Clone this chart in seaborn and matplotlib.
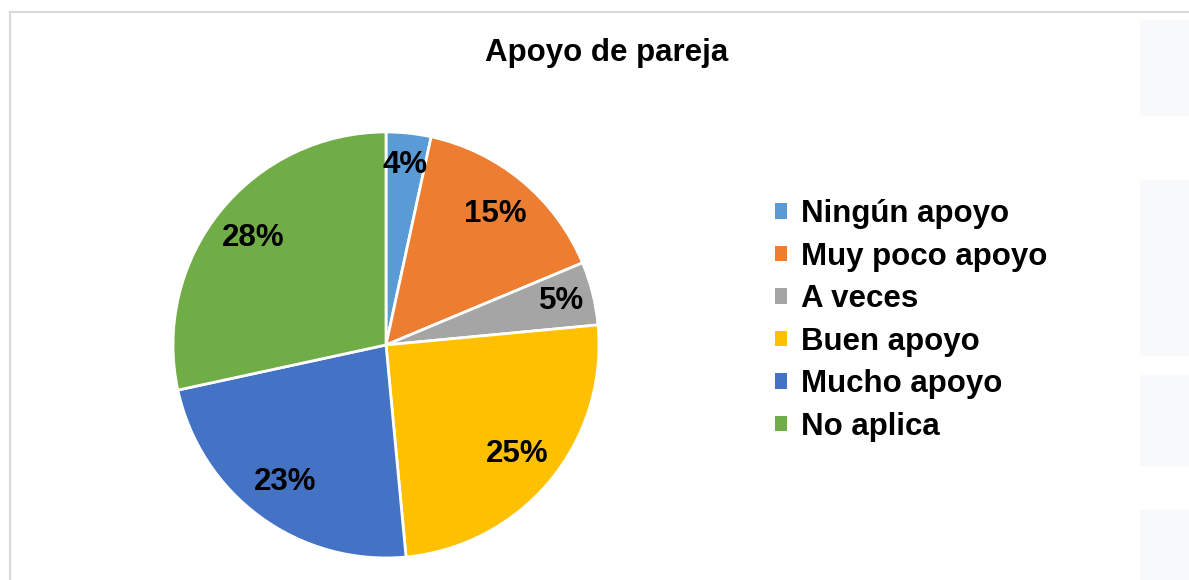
import matplotlib
matplotlib.use("Agg")
import matplotlib.pyplot as plt
from matplotlib.patches import Rectangle
from matplotlib.lines import Line2D
import numpy as np
import seaborn as sns

# datos
categorias = ["Ningún apoyo", "Muy poco apoyo", "A veces", "Buen apoyo", "Mucho apoyo", "No aplica"]
porcentajes = [3.4, 15.3, 4.8, 25.0, 23.1, 28.4]
etiquetas = ["4%", "15%", "5%", "25%", "23%", "28%"]
colores = ["#5B9BD5", "#ED7D31", "#A5A5A5", "#FFC000", "#4472C4", "#70AD47"]
titulo = "Apoyo de pareja"

sns.set_theme(style="white")
plt.rcParams["font.family"] = ["Liberation Sans", "DejaVu Sans"]
plt.rcParams["text.color"] = "black"
paleta = sns.color_palette(colores)

fig = plt.figure(figsize=(11.89, 5.8), dpi=100)
fig.patch.set_facecolor("white")

# fondo tenue a la derecha
for y0, h in [(20, 95), (180, 175), (375, 90), (510, 70)]:
    fig.patches.append(Rectangle((1140 / 1189, 1 - (y0 + h) / 580), 49 / 1189, h / 580,
                                 transform=fig.transFigure, color="#f8f9fb", zorder=0))

# borde del area del grafico
fig.add_artist(Line2D([10 / 1189, 1], [1 - 12 / 580] * 2, color="#d9d9d9", lw=1.5,
                      transform=fig.transFigure))
fig.add_artist(Line2D([10 / 1189] * 2, [0, 1 - 12 / 580], color="#d9d9d9", lw=1.5,
                      transform=fig.transFigure))

ax = fig.add_axes([0.1455, 0.038, 0.3583, 0.7345])
wedges, _ = ax.pie(porcentajes, colors=paleta, startangle=90, counterclock=False,
                   radius=1, wedgeprops=dict(edgecolor="white", linewidth=2))
ax.set_xlim(-1, 1)
ax.set_ylim(-1, 1)
ax.set_aspect("equal")
ax.axis("off")

# etiquetas de porcentaje dentro de cada sector
acum = np.cumsum([0] + porcentajes)
for i, txt in enumerate(etiquetas):
    medio = (acum[i] + acum[i + 1]) / 2
    ang = np.deg2rad(90 - medio * 3.6)
    d = 0.85 if porcentajes[i] < 6 else 0.80
    ax.text(d * np.cos(ang), d * np.sin(ang), txt, ha="center", va="center",
            fontsize=22.5, fontweight="bold", color="black")

fig.text(607 / 1189, 1 - 53 / 580, titulo, ha="center", va="center",
         fontsize=22.5, fontweight="bold", color="black")

handles = [Rectangle((0, 0), 1, 1, facecolor=c, edgecolor="none") for c in paleta]
leg = fig.legend(handles, categorias, loc="upper left",
                 bbox_to_anchor=(775 / 1189, 1 - 199 / 580), frameon=False,
                 prop=dict(size=22.5, weight="bold"), handlelength=0.38,
                 handleheight=0.38, handletextpad=0.45, labelspacing=0.4,
                 borderpad=0, borderaxespad=0)
for t in leg.get_texts():
    t.set_color("black")

fig.savefig("out.png", dpi=100)
